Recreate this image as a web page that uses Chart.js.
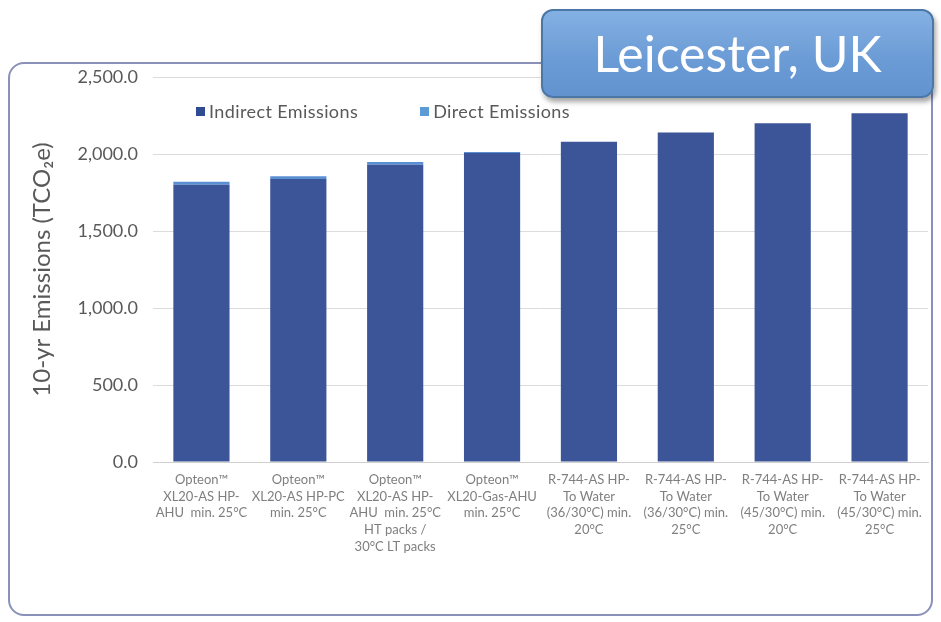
<!DOCTYPE html>
<html>
<head>
<meta charset="utf-8">
<script src="https://cdn.jsdelivr.net/npm/chart.js@4.4.0/dist/chart.umd.min.js"></script>
<style>
  html, body { margin: 0; padding: 0; background: #fff; }
  #wrap { position: relative; width: 941px; height: 622px; overflow: hidden; font-family: Lato, sans-serif; }
  #frame {
    position: absolute; left: 8px; top: 62px; width: 925px; height: 554px;
    border: 2px solid #8a92ba; border-radius: 16px; box-sizing: border-box;
  }
  #emissionsChart { position: absolute; left: 0; top: 0; }
  #chartLegend { position: absolute; left: 196px; top: 100px; display: flex; gap: 62px; }
  .legend-item { display: flex; align-items: center; color: #595959; font-size: 18px; letter-spacing: 0.4px; }
  .legend-color { width: 9px; height: 9px; margin-right: 4px; }
  #place {
    position: absolute; left: 541px; top: 9px; width: 393px; height: 89px; box-sizing: border-box;
    background: linear-gradient(#84b1e3, #6c9cd6 55%, #6293d0);
    border: 2px solid #4a77a6; border-radius: 12px;
    box-shadow: 2px 4px 5px rgba(0, 0, 0, 0.35);
    color: #fff; font-size: 50px; text-align: center; line-height: 84px;
  }
</style>
</head>
<body>
<div id="wrap">
  <div id="frame"></div>
  <canvas id="emissionsChart" width="941" height="622"></canvas>
  <div id="chartLegend"></div>
  <div id="place">Leicester, UK</div>
</div>
<script>
const categories = [
  ['Opteon™', 'XL20-AS HP-', 'AHU  min. 25°C'],
  ['Opteon™', 'XL20-AS HP-PC', 'min. 25°C'],
  ['Opteon™', 'XL20-AS HP-', 'AHU  min. 25°C', 'HT packs /', '30°C LT packs'],
  ['Opteon™', 'XL20-Gas-AHU', 'min. 25°C'],
  ['R-744-AS HP-', 'To Water', '(36/30°C) min.', '20°C'],
  ['R-744-AS HP-', 'To Water', '(36/30°C) min.', '25°C'],
  ['R-744-AS HP-', 'To Water', '(45/30°C) min.', '20°C'],
  ['R-744-AS HP-', 'To Water', '(45/30°C) min.', '25°C']
];
const indirectEmissions = [1800, 1838, 1930, 2006, 2080, 2140, 2200, 2265];
const directEmissions = [20, 18, 18, 7, 0, 0, 0, 0];
const yMax = 2500;
const yStep = 500;

const FONT = 'Lato, sans-serif';

document.addEventListener('DOMContentLoaded', function () {
  const ctx = document.getElementById('emissionsChart');
  const chartLegend = document.getElementById('chartLegend');

  const chart = new Chart(ctx, {
    type: 'bar',
    data: {
      labels: categories,
      datasets: [
        {
          label: 'Indirect Emissions',
          data: indirectEmissions,
          backgroundColor: '#3b5598',
          legendColor: '#2f4c92'
        },
        {
          label: 'Direct Emissions',
          data: directEmissions,
          backgroundColor: '#5b8fd3',
          legendColor: '#5b9bd5'
        }
      ]
    },
    options: {
      responsive: false,
      animation: false,
      layout: { padding: { left: 14, right: 13, top: 77, bottom: 0 } },
      datasets: {
        bar: { categoryPercentage: 1, barPercentage: 0.58 }
      },
      plugins: {
        legend: { display: false },
        tooltip: { enabled: false }
      },
      scales: {
        x: {
          stacked: true,
          grid: { display: false, drawTicks: false },
          border: { color: '#cfcfcf' },
          ticks: {
            autoSkip: false,
            maxRotation: 0,
            minRotation: 0,
            padding: 9,
            color: '#7f7f7f',
            font: { family: FONT, size: 13, lineHeight: 1.3 }
          },
          afterFit: function (scale) { scale.height = 160; }
        },
        y: {
          stacked: true,
          min: 0,
          max: yMax,
          grid: { color: '#dcdcdc', drawTicks: false },
          border: { display: false },
          ticks: {
            stepSize: yStep,
            padding: 15,
            color: '#595959',
            font: { family: FONT, size: 18 },
            callback: function (v) {
              return v.toLocaleString('en-US', { minimumFractionDigits: 1, maximumFractionDigits: 1 });
            }
          },
          title: {
            display: true,
            text: '10-yr Emissions (TCO₂e)',
            color: '#595959',
            font: { family: FONT, size: 24 },
            padding: { top: 14, bottom: 0 }
          },
          afterFit: function (scale) { scale.width = 139; }
        }
      }
    }
  });

  // simple legend row above the bars
  chart.data.datasets.forEach(function (dataset) {
    const item = document.createElement('div');
    item.className = 'legend-item';
    item.innerHTML = '<div class="legend-color" style="background-color: ' + dataset.legendColor + ';"></div>' +
      '<span>' + dataset.label + '</span>';
    chartLegend.appendChild(item);
  });
});
</script>
</body>
</html>
